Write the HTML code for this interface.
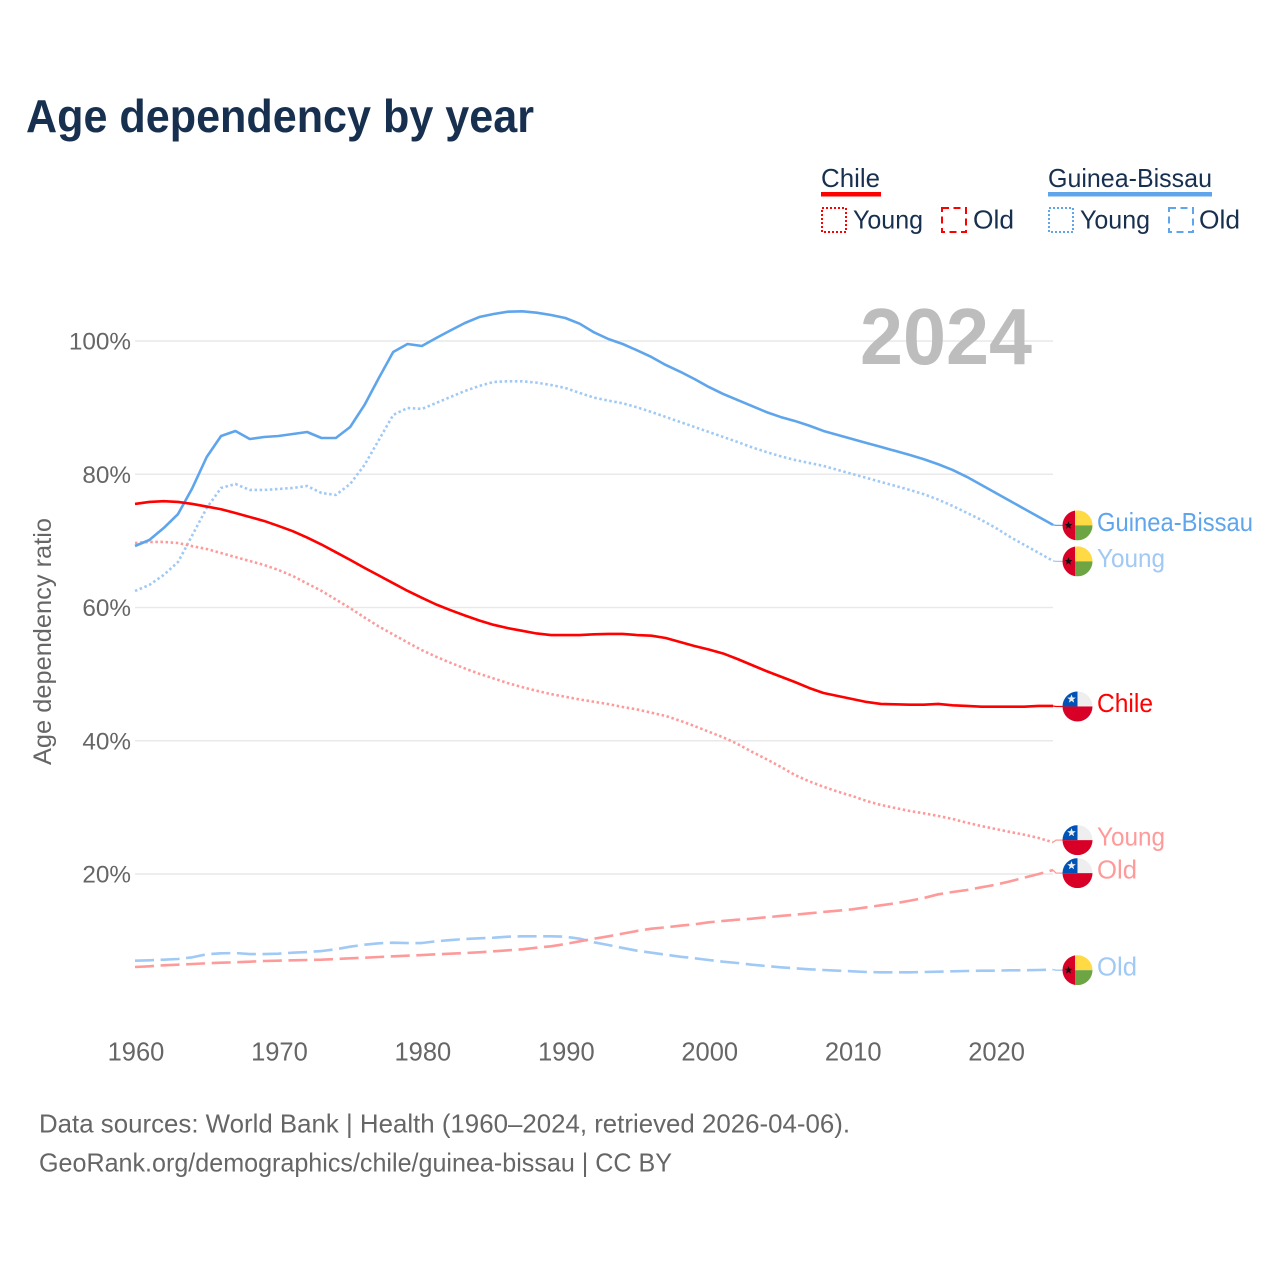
<!DOCTYPE html>
<html lang="en">
<head>
<meta charset="utf-8">
<title>Age dependency by year</title>
<style>
  html, body { margin: 0; padding: 0; background: #fff; }
  svg { display: block; font-family: "Liberation Sans", Arial, sans-serif; }
</style>
</head>
<body>
<svg id="chart" xmlns="http://www.w3.org/2000/svg" width="1280" height="1280" viewBox="0 0 1280 1280">
  <rect width="1280" height="1280" fill="#fff"/>
  <text x="26" y="132" font-size="46" font-weight="700" fill="#18304f" textLength="508" lengthAdjust="spacingAndGlyphs">Age dependency by year</text>

  <g>
    <text x="821" y="187" font-size="26" fill="#18304f" textLength="59" lengthAdjust="spacingAndGlyphs">Chile</text>
    <rect x="821" y="192" width="60" height="4.5" fill="#ff0000"/>
    <rect x="822" y="208" width="24" height="24" fill="none" stroke="#ff0000" stroke-width="2" stroke-dasharray="2 2"/>
    <text x="853" y="228.5" font-size="26" fill="#18304f" textLength="70" lengthAdjust="spacingAndGlyphs">Young</text>
    <rect x="942" y="208" width="24" height="24" fill="none" stroke="#ff0000" stroke-width="2" stroke-dasharray="7 4.5"/>
    <text x="973" y="228.5" font-size="26" fill="#18304f" textLength="41" lengthAdjust="spacingAndGlyphs">Old</text>

    <text x="1048" y="187" font-size="26" fill="#18304f" textLength="164" lengthAdjust="spacingAndGlyphs">Guinea-Bissau</text>
    <rect x="1048" y="192" width="164" height="4.5" fill="#5fa5ec"/>
    <rect x="1049" y="208" width="24" height="24" fill="none" stroke="#5fa5ec" stroke-width="2" stroke-dasharray="2 2"/>
    <text x="1080" y="228.5" font-size="26" fill="#18304f" textLength="70" lengthAdjust="spacingAndGlyphs">Young</text>
    <rect x="1169" y="208" width="24" height="24" fill="none" stroke="#5fa5ec" stroke-width="2" stroke-dasharray="7 4.5"/>
    <text x="1199" y="228.5" font-size="26" fill="#18304f" textLength="41" lengthAdjust="spacingAndGlyphs">Old</text>
  </g>

  <g id="grid"></g>
  <text x="860" y="364" font-size="80" font-weight="700" fill="#bdbdbd" textLength="172" lengthAdjust="spacingAndGlyphs">2024</text>
  <g id="axes"></g>
  <text transform="translate(51 765) rotate(-90)" font-size="25" fill="#666666" textLength="247" lengthAdjust="spacingAndGlyphs">Age dependency ratio</text>
  <g id="series"></g>
  <g id="labels"></g>

  <text x="39" y="1132.5" font-size="26" fill="#666666" textLength="811" lengthAdjust="spacingAndGlyphs">Data sources: World Bank | Health (1960–2024, retrieved 2026-04-06).</text>
  <text x="39" y="1171.5" font-size="26" fill="#666666" textLength="633" lengthAdjust="spacingAndGlyphs">GeoRank.org/demographics/chile/guinea-bissau | CC BY</text>
</svg>

<script>
const yearStart = 1960;
const yearEnd = 2024;
const xTicks = [1960, 1970, 1980, 1990, 2000, 2010, 2020];
const yTicks = [20, 40, 60, 80, 100];

const chileTotal = [75.54,75.84,75.95,75.84,75.54,75.15,74.75,74.19,73.59,72.99,72.24,71.45,70.5,69.45,68.3,67.15,65.95,64.8,63.65,62.5,61.45,60.45,59.6,58.8,58.05,57.4,56.9,56.5,56.1,55.87,55.87,55.87,55.98,56.03,56.03,55.87,55.77,55.42,54.82,54.22,53.7,53.1,52.27,51.37,50.47,49.64,48.82,47.92,47.17,46.72,46.27,45.82,45.52,45.47,45.41,45.41,45.52,45.32,45.22,45.11,45.11,45.11,45.11,45.22,45.22];
const chileYoung = [69.68,69.84,69.84,69.68,69.2,68.78,68.18,67.58,66.98,66.38,65.63,64.73,63.6,62.5,61.2,59.9,58.5,57.15,55.95,54.75,53.6,52.6,51.7,50.85,50.05,49.35,48.65,48.05,47.5,47.0,46.6,46.2,45.85,45.5,45.07,44.7,44.21,43.72,43.01,42.21,41.36,40.52,39.52,38.36,37.26,36.11,34.86,33.91,33.1,32.35,31.71,30.96,30.36,29.91,29.46,29.11,28.71,28.26,27.7,27.2,26.76,26.31,25.9,25.41,24.76];
const chileOld = [6.04,6.15,6.3,6.39,6.49,6.6,6.69,6.75,6.84,6.94,6.99,7.05,7.09,7.14,7.24,7.35,7.44,7.54,7.65,7.74,7.84,7.95,8.04,8.14,8.25,8.4,8.55,8.7,8.94,9.15,9.49,9.9,10.29,10.65,11.05,11.45,11.79,12.0,12.24,12.45,12.75,12.95,13.14,13.29,13.5,13.7,13.89,14.1,14.3,14.49,14.7,15.0,15.3,15.6,15.99,16.4,16.95,17.3,17.6,18.0,18.39,18.9,19.45,20.0,20.6];
const guineaTotal = [69.23,70.13,71.93,74.03,77.94,82.59,85.74,86.49,85.29,85.59,85.74,86.04,86.34,85.44,85.44,87.09,90.4,94.45,98.35,99.55,99.25,100.45,101.6,102.7,103.6,104.05,104.4,104.46,104.25,103.9,103.45,102.6,101.3,100.3,99.55,98.6,97.6,96.4,95.4,94.3,93.1,92.05,91.15,90.25,89.35,88.6,88.0,87.3,86.5,85.9,85.3,84.7,84.1,83.5,82.9,82.25,81.5,80.65,79.6,78.4,77.2,76.0,74.8,73.6,72.4];
const guineaYoung = [62.48,63.38,64.88,66.83,70.88,74.93,77.94,78.54,77.64,77.64,77.79,77.94,78.24,77.19,76.89,78.54,81.39,85.14,88.9,89.95,89.8,90.7,91.6,92.5,93.25,93.85,93.95,93.95,93.75,93.4,92.95,92.2,91.5,91.05,90.65,90.05,89.35,88.6,87.85,87.1,86.35,85.6,84.85,84.05,83.35,82.7,82.15,81.7,81.25,80.65,80.05,79.45,78.85,78.25,77.65,77.0,76.2,75.25,74.2,73.15,71.95,70.6,69.4,68.2,67.0];
const guineaOld = [6.99,7.05,7.14,7.24,7.5,7.95,8.1,8.14,7.99,7.99,8.04,8.19,8.29,8.44,8.7,9.09,9.39,9.6,9.69,9.64,9.64,9.9,10.09,10.24,10.35,10.44,10.59,10.65,10.65,10.65,10.59,10.29,9.75,9.34,8.9,8.49,8.19,7.89,7.59,7.35,7.09,6.84,6.64,6.39,6.19,6.0,5.85,5.7,5.59,5.49,5.4,5.29,5.25,5.25,5.25,5.29,5.34,5.4,5.44,5.49,5.49,5.55,5.55,5.59,5.64];

const NS = 'http://www.w3.org/2000/svg';
const X0 = 135, X1 = 1053;
const Y_ZERO = 1007.25, Y_PER_UNIT = 6.6625;
function xScale(year) { return X0 + (year - yearStart) * (X1 - X0) / (yearEnd - yearStart); }
function yScale(value) { return Y_ZERO - value * Y_PER_UNIT; }
function make(tag, attrs, parent) {
  const node = document.createElementNS(NS, tag);
  for (const k in attrs) node.setAttribute(k, attrs[k]);
  parent.appendChild(node);
  return node;
}

const gridGroup = document.getElementById('grid');
const axesGroup = document.getElementById('axes');
const seriesGroup = document.getElementById('series');
const labelsGroup = document.getElementById('labels');

yTicks.forEach(function (t) {
  const line = make('line', { x1: X0, x2: X1, y1: yScale(t), y2: yScale(t), stroke: '#e9e9e9', 'stroke-width': 1.5 }, gridGroup);
  
  
  const label = make('text', { x: 131, y: yScale(t) + 8.5, 'text-anchor': 'end', 'font-size': 24.3, fill: '#666666' }, axesGroup);
  
  
  label.textContent = t + '%';
});
xTicks.forEach(function (t) {
  const label = make('text', { x: xScale(t) + 1, y: 1060.5, 'text-anchor': 'middle', 'font-size': 25.5, fill: '#666666' }, axesGroup);
  
  
  label.textContent = t;
});

const seriesList = [
  { key: 'guinea-bissau-old', values: guineaOld, color: '#a0c9f5', dash: '19 6.6', label: 'Old', flag: 'gw', labelWidth: 40 },
  { key: 'chile-old', values: chileOld, color: '#ff9a9a', dash: '19 6.6', label: 'Old', flag: 'cl', labelWidth: 40 },
  { key: 'guinea-bissau-young', values: guineaYoung, color: '#a0c9f5', dash: '2.5 2.6', label: 'Young', flag: 'gw', labelWidth: 68 },
  { key: 'chile-young', values: chileYoung, color: '#ff9a9a', dash: '2.5 2.6', label: 'Young', flag: 'cl', labelWidth: 68 },
  { key: 'guinea-bissau-total', values: guineaTotal, color: '#5fa5ec', dash: '', label: 'Guinea-Bissau', flag: 'gw', labelWidth: 156 },
  { key: 'chile-total', values: chileTotal, color: '#ff0000', dash: '', label: 'Chile', flag: 'cl', labelWidth: 56 }
];

seriesList.forEach(function (s) {
  const d = s.values.map(function (v, i) {
    return (i ? 'L' : 'M') + xScale(yearStart + i).toFixed(2) + ' ' + yScale(v).toFixed(2);
  }).join('');
  const attrs = { d: d, fill: 'none', stroke: s.color, 'stroke-width': 2.6, 'stroke-linejoin': 'round' };
  if (s.dash) attrs['stroke-dasharray'] = s.dash;
  const path = make('path', attrs, seriesGroup);
  
  
});

/* Flags and labels sit at the last value, pushed apart when they would collide. */
const FLAG_GAP = 33;
const placed = seriesList.map(function (s) {
  return { s: s, y0: yScale(s.values[s.values.length - 1]), y: yScale(s.values[s.values.length - 1]) };
}).sort(function (a, b) { return a.y0 - b.y0; });
for (let pass = 0; pass < 8; pass++) {
  for (let i = 1; i < placed.length; i++) {
    const gap = placed[i].y - placed[i - 1].y;
    if (gap < FLAG_GAP) {
      const push = (FLAG_GAP - gap) / 2;
      placed[i - 1].y -= push;
      placed[i].y += push;
    }
  }
}

function starPoints(cx, cy, r) {
  const pts = [];
  for (let i = 0; i < 10; i++) {
    const rad = i % 2 ? r * 0.42 : r;
    const a = -Math.PI / 2 + i * Math.PI / 5;
    pts.push((cx + rad * Math.cos(a)).toFixed(2) + ',' + (cy + rad * Math.sin(a)).toFixed(2));
  }
  return pts.join(' ');
}

const defs = make('defs', {}, labelsGroup);
placed.forEach(function (p, idx) {
  const s = p.s;
  const cx = 1077.5, cy = p.y + 0.5, r = 15;
  const connector = make('path', {
    d: 'M' + X1 + ' ' + p.y0.toFixed(2) + 'L' + (X1 + 3) + ' ' + cy.toFixed(2) + 'L1063 ' + cy.toFixed(2),
    fill: 'none', stroke: s.color, 'stroke-width': 1.3
  }, labelsGroup);
  
  

  const clip = make('clipPath', { id: 'flag-clip-' + idx }, defs);
  make('circle', { cx: cx, cy: cy, r: r }, clip);
  const flag = make('g', { 'clip-path': 'url(#flag-clip-' + idx + ')' }, labelsGroup);
  
  
  if (s.flag === 'cl') {
    make('rect', { x: cx - r, y: cy - r, width: 2 * r, height: r, fill: '#eeeeee' }, flag);
    make('rect', { x: cx - r, y: cy - r, width: r, height: r, fill: '#0052b4' }, flag);
    make('rect', { x: cx - r, y: cy, width: 2 * r, height: r, fill: '#d80027' }, flag);
    make('polygon', { points: starPoints(cx - 6, cy - 7.5, 4.5), fill: '#eeeeee' }, flag);
  } else {
    make('rect', { x: cx - r, y: cy - r, width: 12.5, height: 2 * r, fill: '#d80027' }, flag);
    make('rect', { x: cx - 2.5, y: cy - r, width: 17.5, height: r, fill: '#ffda44' }, flag);
    make('rect', { x: cx - 2.5, y: cy, width: 17.5, height: r, fill: '#6da544' }, flag);
    make('polygon', { points: starPoints(cx - 9, cy, 4.2), fill: '#111111' }, flag);
  }

  const text = make('text', {
    x: 1097, y: p.y + 6, 'font-size': 26, fill: s.color,
    textLength: s.labelWidth, lengthAdjust: 'spacingAndGlyphs'
  }, labelsGroup);
  
  
  text.textContent = s.label;
});
</script>
</body>
</html>
